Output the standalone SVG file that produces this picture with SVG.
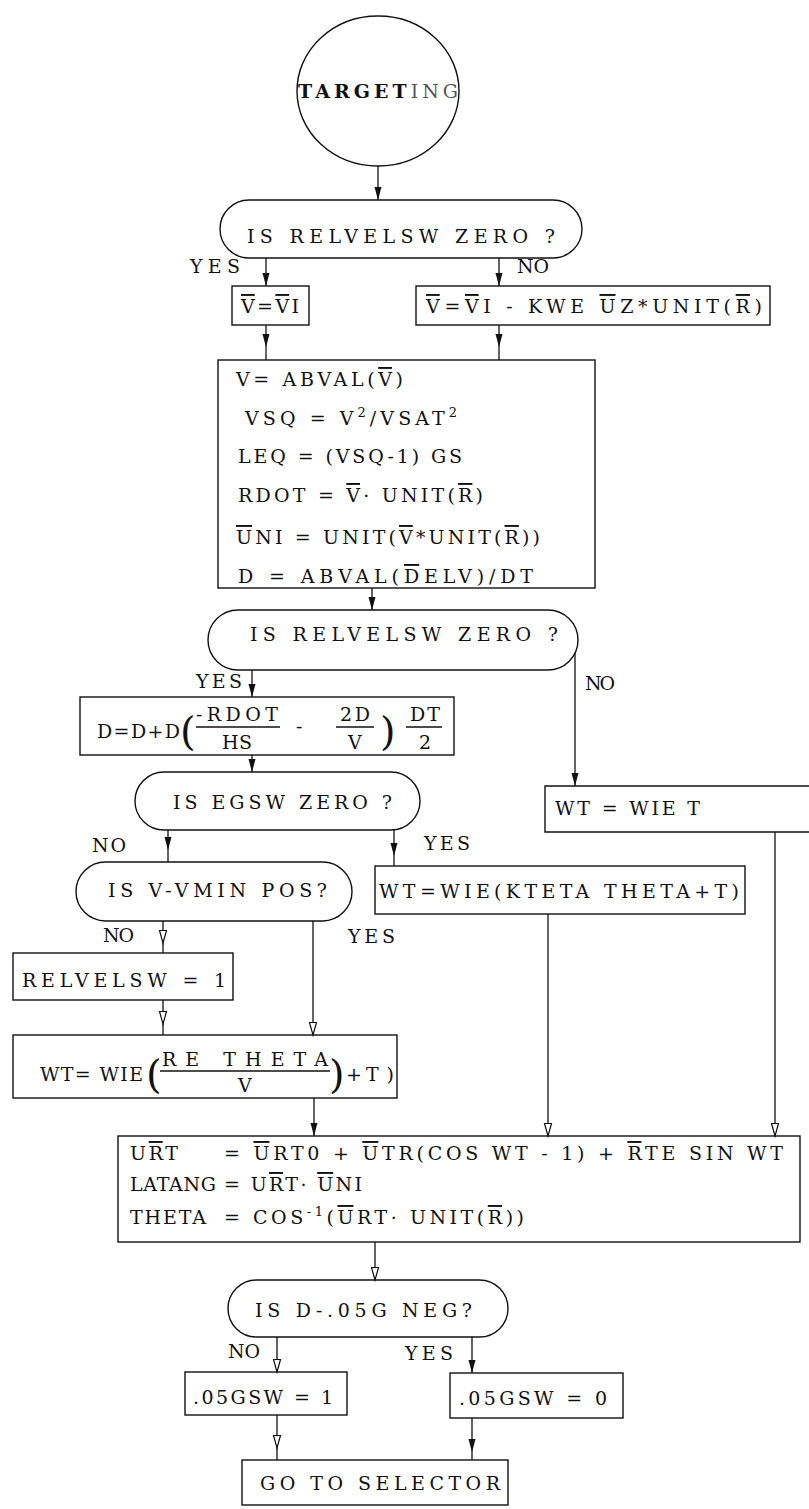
<svg xmlns="http://www.w3.org/2000/svg" width="809" height="1509" viewBox="0 0 809 1509">
<defs>
<marker id="af" markerUnits="userSpaceOnUse" viewBox="0 -5 14 10" refX="13" refY="0" markerWidth="14" markerHeight="10" orient="auto" overflow="visible"><path d="M0,-3.5 L13,0 L0,3.5 z" fill="#111"/></marker>
<marker id="ao" markerUnits="userSpaceOnUse" viewBox="0 -5 14 10" refX="13" refY="0" markerWidth="14" markerHeight="10" orient="auto" overflow="visible"><path d="M0.5,-3.5 L13,0 L0.5,3.5 z" fill="#fff" stroke="#111" stroke-width="1.2"/></marker>
<style>
.n{fill:none;stroke:#111;stroke-width:1.4}
.c{fill:none;stroke:#111;stroke-width:1.3}
.cf{marker-end:url(#af)}
.co{marker-end:url(#ao)}
.mf{marker-mid:url(#af)}
.mo{marker-mid:url(#ao)}
.t{font-family:"DejaVu Serif","Liberation Serif",serif;font-size:19px;fill:#111}
.l{font-family:"DejaVu Serif","Liberation Serif",serif;font-size:19px;fill:#111}
.ov{text-decoration:overline}
.sup{font-size:13px}
.big{font-family:"DejaVu Serif","Liberation Serif",serif;font-size:40px;fill:#111}
</style>
</defs>
<rect width="809" height="1509" fill="#fff"/>

<g id="connectors">
<path class="c cf" d="M378,166 V200"/>
<path class="c cf" d="M266,258 V286"/>
<path class="c cf" d="M499,258 V286"/>
<path class="c mf" d="M266,325 L266,347 L266,360"/>
<path class="c mf" d="M499,325 L499,347 L499,360"/>
<path class="c cf" d="M372,588 V610"/>
<path class="c cf" d="M252,670 V697"/>
<path class="c cf" d="M575,653 V786"/>
<path class="c cf" d="M252,755 V772"/>
<path class="c mf" d="M168,830 L168,850 L168,862"/>
<path class="c mf" d="M394,830 L394,856 L394,866"/>
<path class="c mo" d="M163,921 L163,943 L163,953"/>
<path class="c co" d="M313,921 V1035"/>
<path class="c mo" d="M163,1000 L163,1024 L163,1035"/>
<path class="c cf" d="M314,1098 V1136"/>
<path class="c co" d="M548,914 V1136"/>
<path class="c co" d="M775,832 V1136"/>
<path class="c co" d="M375,1242 V1280"/>
<path class="c co" d="M277,1337 V1372"/>
<path class="c cf" d="M472,1337 V1373"/>
<path class="c mo" d="M277,1415 L277,1448 L277,1460"/>
<path class="c mf" d="M472,1418 L472,1452 L472,1460"/>
</g>

<g id="labels">
<text class="l" x="190" y="273" textLength="50" lengthAdjust="spacing">YES</text>
<text class="l" x="517" y="273" textLength="32" lengthAdjust="spacing">NO</text>
<text class="l" x="196" y="688" textLength="46" lengthAdjust="spacing">YES</text>
<text class="l" x="585" y="690" textLength="30" lengthAdjust="spacing">NO</text>
<text class="l" x="92" y="852" textLength="34" lengthAdjust="spacing">NO</text>
<text class="l" x="424" y="850" textLength="46" lengthAdjust="spacing">YES</text>
<text class="l" x="103" y="942" textLength="31" lengthAdjust="spacing">NO</text>
<text class="l" x="348" y="943" textLength="47" lengthAdjust="spacing">YES</text>
<text class="l" x="228" y="1358" textLength="32" lengthAdjust="spacing">NO</text>
<text class="l" x="405" y="1360" textLength="48" lengthAdjust="spacing">YES</text>
</g>

<g id="start">
<ellipse class="n" cx="378" cy="91" rx="81" ry="75"/>
<text class="t" x="298" y="98" font-size="22" textLength="160" lengthAdjust="spacing"><tspan font-weight="bold">TARGET</tspan><tspan fill="#555" font-size="19">ING</tspan></text>
</g>

<g id="dec1">
<rect class="n" x="220" y="200" width="362" height="58" rx="29"/>
<text class="t" x="247" y="243" textLength="308" lengthAdjust="spacing">IS RELVELSW ZERO ?</text>
</g>

<g id="v-vi">
<rect class="n" x="232" y="286" width="77" height="39"/>
<text class="t" x="241" y="313" textLength="58" lengthAdjust="spacing"><tspan class="ov">V</tspan>=<tspan class="ov">V</tspan>I</text>
</g>

<g id="v-kwe">
<rect class="n" x="416" y="286" width="354" height="39"/>
<text class="t" x="426" y="313" textLength="336" lengthAdjust="spacing"><tspan class="ov">V</tspan>=<tspan class="ov">V</tspan>I - KWE <tspan class="ov">U</tspan>Z*UNIT(<tspan class="ov">R</tspan>)</text>
</g>

<g id="compute">
<rect class="n" x="218" y="360" width="377" height="228"/>
<text class="t" x="236" y="386" textLength="167" lengthAdjust="spacing">V= ABVAL(<tspan class="ov">V</tspan>)</text>
<text class="t" x="245" y="425" textLength="212" lengthAdjust="spacing">VSQ = V<tspan class="sup" dy="-8">2</tspan><tspan dy="8">/VSAT</tspan><tspan class="sup" dy="-8">2</tspan></text>
<text class="t" x="238" y="463" textLength="224" lengthAdjust="spacing">LEQ = (VSQ-1) GS</text>
<text class="t" x="238" y="502" textLength="245" lengthAdjust="spacing">RDOT = <tspan class="ov">V</tspan>· UNIT(<tspan class="ov">R</tspan>)</text>
<text class="t" x="236" y="544" textLength="304" lengthAdjust="spacing"><tspan class="ov">U</tspan>NI = UNIT(<tspan class="ov">V</tspan>*UNIT(<tspan class="ov">R</tspan>))</text>
<text class="t" x="238" y="583" textLength="295" lengthAdjust="spacing">D = ABVAL(<tspan class="ov">D</tspan>ELV)/DT</text>
</g>

<g id="dec2">
<rect class="n" x="208" y="610" width="370" height="60" rx="30"/>
<text class="t" x="250" y="641" textLength="308" lengthAdjust="spacing">IS RELVELSW ZERO ?</text>
</g>

<g id="d-update">
<rect class="n" x="80" y="697" width="374" height="58"/>
<text class="t" x="97" y="738" textLength="83" lengthAdjust="spacing">D=D+D</text>
<text class="big" x="180" y="745">(</text>
<text class="t" x="196" y="721" textLength="82" lengthAdjust="spacing">-RDOT</text>
<line class="n" x1="196" y1="727" x2="280" y2="727"/>
<text class="t" x="222" y="749" textLength="30" lengthAdjust="spacing">HS</text>
<text class="t" x="296" y="733">-</text>
<text class="t" x="340" y="721" textLength="30" lengthAdjust="spacing">2D</text>
<line class="n" x1="336" y1="727" x2="374" y2="727"/>
<text class="t" x="348" y="749">V</text>
<text class="big" x="380" y="745">)</text>
<text class="t" x="410" y="721" textLength="30" lengthAdjust="spacing">DT</text>
<line class="n" x1="406" y1="727" x2="442" y2="727"/>
<text class="t" x="419" y="749">2</text>
</g>

<g id="wt-wie-t">
<path class="n" d="M812,786 H545 V832 H812"/>
<text class="t" x="555" y="815" textLength="145" lengthAdjust="spacing">WT = WIE T</text>
</g>

<g id="dec-egsw">
<rect class="n" x="135" y="772" width="285" height="58" rx="29"/>
<text class="t" x="173" y="809" textLength="219" lengthAdjust="spacing">IS EGSW ZERO ?</text>
</g>

<g id="wt-kteta">
<rect class="n" x="375" y="866" width="370" height="48"/>
<text class="t" x="379" y="898" textLength="360" lengthAdjust="spacing">WT=WIE(KTETA THETA+T)</text>
</g>

<g id="dec-vmin">
<rect class="n" x="76" y="862" width="276" height="59" rx="29.5"/>
<text class="t" x="108" y="897" textLength="219" lengthAdjust="spacing">IS V-VMIN POS?</text>
</g>

<g id="relvelsw">
<rect class="n" x="13" y="953" width="220" height="47"/>
<text class="t" x="22" y="987" textLength="204" lengthAdjust="spacing">RELVELSW = 1</text>
</g>

<g id="wt-re">
<rect class="n" x="13" y="1035" width="384" height="63"/>
<text class="t" x="40" y="1081" textLength="103" lengthAdjust="spacing">WT= WIE</text>
<text class="big" x="146" y="1088">(</text>
<text class="t" x="162" y="1066" textLength="166" lengthAdjust="spacing">RE THETA</text>
<line class="n" x1="160" y1="1071" x2="330" y2="1071"/>
<text class="t" x="238" y="1092">V</text>
<text class="big" x="329" y="1088">)</text>
<text class="t" x="346" y="1081">+</text>
<text class="t" x="366" y="1081" textLength="28" lengthAdjust="spacing">T)</text>
</g>

<g id="urt">
<rect class="n" x="118" y="1136" width="682" height="106"/>
<text class="t" x="130" y="1160" textLength="48" lengthAdjust="spacing">U<tspan class="ov">R</tspan>T</text>
<text class="t" x="224" y="1160" textLength="559" lengthAdjust="spacing">= <tspan class="ov">U</tspan>RT0 + <tspan class="ov">U</tspan>TR(COS WT - 1) + <tspan class="ov">R</tspan>TE SIN WT</text>
<text class="t" x="130" y="1191" textLength="86" lengthAdjust="spacing">LATANG</text>
<text class="t" x="224" y="1191" textLength="138" lengthAdjust="spacing">= U<tspan class="ov">R</tspan>T· <tspan class="ov">U</tspan>NI</text>
<text class="t" x="130" y="1224" textLength="76" lengthAdjust="spacing">THETA</text>
<text class="t" x="224" y="1224" textLength="300" lengthAdjust="spacing">= COS<tspan class="sup" dy="-8">-1</tspan><tspan dy="8">(</tspan><tspan class="ov">U</tspan>RT· UNIT(<tspan class="ov">R</tspan>))</text>
</g>

<g id="dec-05g">
<rect class="n" x="228" y="1280" width="280" height="57" rx="28.5"/>
<text class="t" x="255" y="1317" textLength="217" lengthAdjust="spacing">IS D-.05G NEG?</text>
</g>

<g id="sw1">
<rect class="n" x="185" y="1372" width="162" height="43"/>
<text class="t" x="193" y="1404" textLength="140" lengthAdjust="spacing">.05GSW = 1</text>
</g>

<g id="sw0">
<rect class="n" x="450" y="1373" width="173" height="45"/>
<text class="t" x="459" y="1405" textLength="148" lengthAdjust="spacing">.05GSW = 0</text>
</g>

<g id="selector">
<rect class="n" x="242" y="1460" width="266" height="45"/>
<text class="t" x="260" y="1490" textLength="240" lengthAdjust="spacing">GO TO SELECTOR</text>
</g>
</svg>
